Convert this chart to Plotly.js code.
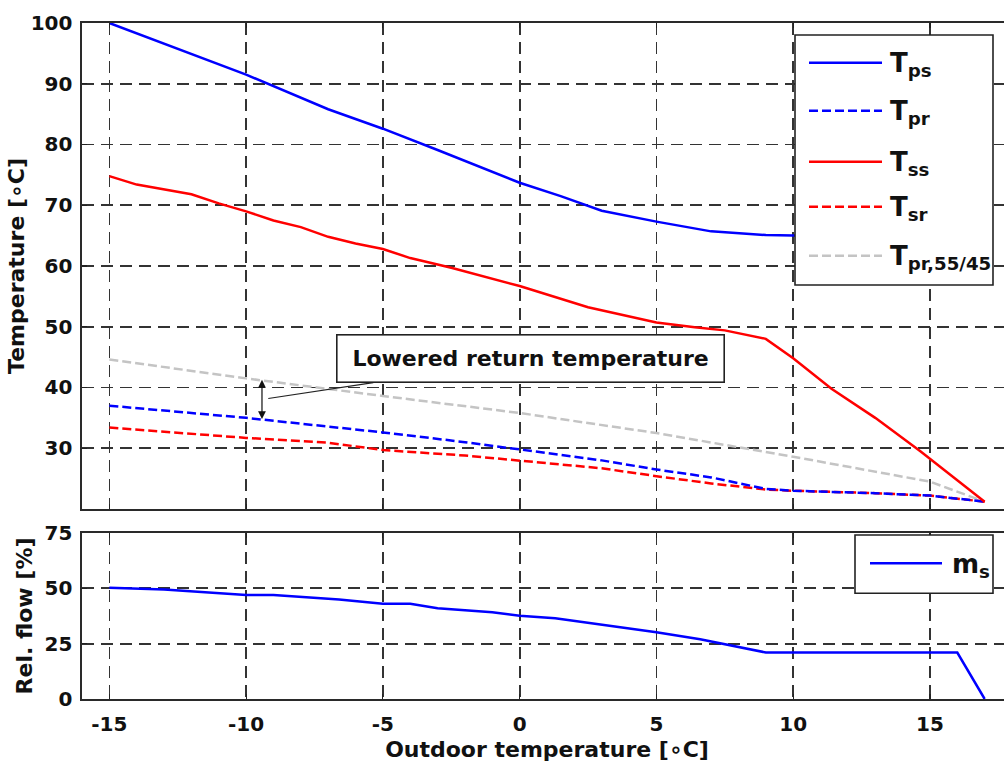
<!DOCTYPE html>
<html>
<head>
<meta charset="utf-8">
<script src="https://cdn.plot.ly/plotly-3.0.1.min.js"></script>
<style>
html,body{margin:0;padding:0;overflow:hidden;background:#fff;}
#chart{width:1012px;height:767px;}
</style>
</head>
<body>
<div id="chart"></div>
<script>
// ---- Data ----
const xTps = [-15, -13, -10, -7, -5, -3, 0, 1.5, 3, 5, 7, 9, 10, 17];
const yTps = [100, 96.6, 91.5, 85.8, 82.6, 79.1, 73.7, 71.5, 69.1, 67.3, 65.7, 65.1, 65.0, 65.0];

const xTpr = [-15, -12, -10, -7.5, -5, -2, 0, 3, 5, 7, 9, 10, 13, 15, 17];
const yTpr = [37.0, 35.8, 35.0, 33.8, 32.6, 31.0, 29.8, 28.0, 26.5, 25.2, 23.3, 23.0, 22.6, 22.2, 21.2];

const xTss = [-15, -14, -12, -11, -10, -9, -8, -7, -6, -5, -4, -2.5, 0, 2.5, 5, 6.4, 7.5, 9, 10, 11.4, 13, 14.65, 17];
const yTss = [74.8, 73.4, 71.8, 70.3, 69.0, 67.5, 66.4, 64.8, 63.7, 62.8, 61.3, 59.7, 56.7, 53.2, 50.7, 49.9, 49.4, 48.0, 44.8, 39.8, 35.0, 29.5, 21.2];

const xTsr = [-15, -12, -10, -7, -5, -2, 0, 3, 5, 7, 9, 10, 13, 15, 17];
const yTsr = [33.4, 32.4, 31.7, 30.9, 29.7, 28.8, 28.0, 26.7, 25.4, 24.2, 23.2, 23.0, 22.6, 22.2, 21.2];

const xTpr5545 = [-15, -10, -5, 0, 5, 10, 15, 17];
const yTpr5545 = [44.6, 41.5, 38.6, 35.8, 32.5, 28.6, 24.5, 21.2];

const xMs = [-15, -13, -10, -9, -6.6, -5, -4, -3, -1, 0, 1.3, 5, 6.6, 9, 16, 17];
const yMs = [50.2, 49.5, 47.0, 47.0, 45.0, 43.0, 43.0, 41.0, 39.2, 37.6, 36.5, 30.2, 27.0, 21.0, 21.0, 0];

const xTicks = [-15, -10, -5, 0, 5, 10, 15];
const xTickLabels = ['-15', '-10', '-5', '0', '5', '10', '15'];
const yTicksTop = [30, 40, 50, 60, 70, 80, 90, 100];
const yTicksBottom = [0, 25, 50, 75];

const names = ['T<sub>ps</sub>', 'T<sub>pr</sub>', 'T<sub>ss</sub>', 'T<sub>sr</sub>', 'T<sub>pr,55/45</sub>'];
const msName = 'm<sub>s</sub>';

// ---- Styles ----
const BLUE = '#0000ff', RED = '#ff0000', GRAY = '#c4c4c4';
const DASH = '9px,4px';
const LW = 2.5;
const topSeries = [
  {name: names[0], x: xTps, y: yTps, color: BLUE, dash: 'solid'},
  {name: names[1], x: xTpr, y: yTpr, color: BLUE, dash: DASH},
  {name: names[2], x: xTss, y: yTss, color: RED, dash: 'solid'},
  {name: names[3], x: xTsr, y: yTsr, color: RED, dash: DASH},
  {name: names[4], x: xTpr5545, y: yTpr5545, color: GRAY, dash: DASH}
];
// draw order: grey behind the others
const drawOrder = [4, 3, 1, 2, 0];

const traces = [];
drawOrder.forEach(i => {
  const s = topSeries[i];
  traces.push({
    type: 'scatter', mode: 'lines', name: s.name, x: s.x, y: s.y,
    xaxis: 'x', yaxis: 'y', showlegend: false,
    line: {color: s.color, width: LW, dash: s.dash, shape: 'linear'}
  });
});
traces.push({
  type: 'scatter', mode: 'lines', name: msName, x: xMs, y: yMs,
  xaxis: 'x2', yaxis: 'y2', showlegend: false,
  line: {color: BLUE, width: LW}
});

const FONT = 'DejaVu Sans, Verdana, sans-serif';
const TXT = '#111111';
const tickFont = {family: FONT, size: 20, color: TXT, weight: 'bold'};
const titleFont = {family: FONT, size: 22, color: TXT, weight: 'bold'};

const axisCommon = {
  showline: true, mirror: 'ticks', linecolor: '#2a2a2a', linewidth: 1.6,
  ticks: 'inside', ticklen: 5, tickwidth: 1.2, tickcolor: '#222',
  showgrid: true, gridcolor: '#333333', gridwidth: 1.7, griddash: '12px,7px',
  zeroline: false, tickfont: tickFont
};

// ---- Legend (drawn as boxes) ----
const shapes = [];
const annotations = [];
const px = v => (v - 82) / 930;      // pixel -> paper x
const py = v => (699 - v) / 676;     // pixel -> paper y

shapes.push({type: 'rect', xref: 'paper', yref: 'paper',
  x0: px(795), x1: px(993), y0: py(285), y1: py(35),
  line: {color: '#222', width: 1.6}, fillcolor: '#ffffff', layer: 'above'});
const legY = [62.7, 110.7, 161.7, 206.7, 255.7];
topSeries.forEach((s, i) => {
  shapes.push({type: 'line', xref: 'paper', yref: 'paper',
    x0: px(809), x1: px(882), y0: py(legY[i]), y1: py(legY[i]),
    line: {color: s.color, width: LW, dash: s.dash}, layer: 'above'});
  annotations.push({xref: 'paper', yref: 'paper', x: px(888), y: py(legY[i] + 2),
    xanchor: 'left', yanchor: 'middle', showarrow: false, text: s.name,
    font: {family: FONT, size: 26, color: TXT, weight: 'bold'}});
});

shapes.push({type: 'rect', xref: 'paper', yref: 'paper',
  x0: px(855), x1: px(993), y0: py(593.3), y1: py(535),
  line: {color: '#222', width: 1.6}, fillcolor: '#ffffff', layer: 'above'});
shapes.push({type: 'line', xref: 'paper', yref: 'paper',
  x0: px(870), x1: px(942), y0: py(563.3), y1: py(563.3),
  line: {color: BLUE, width: LW}, layer: 'above'});
annotations.push({xref: 'paper', yref: 'paper', x: px(950), y: py(565),
  xanchor: 'left', yanchor: 'middle', showarrow: false, text: msName,
  font: {family: FONT, size: 26, color: TXT, weight: 'bold'}});

// ---- Callout ----
annotations.push({
  xref: 'x', yref: 'y', x: -9.19, y: 38.2, axref: 'x', ayref: 'y', ax: 0.41, ay: 44.7,
  text: 'Lowered return temperature', showarrow: true, arrowhead: 0, arrowwidth: 1.1,
  arrowcolor: '#222', bgcolor: '#ffffff', bordercolor: '#222', borderwidth: 1.6,
  borderpad: 3, width: 380, height: 40,
  font: {family: FONT, size: 22, color: TXT, weight: 'bold'}
});
annotations.push({
  xref: 'x', yref: 'y', x: -9.42, y: 34.8, axref: 'x', ayref: 'y', ax: -9.42, ay: 41.5,
  text: '', showarrow: true, arrowhead: 2, arrowside: 'end+start', arrowsize: 1.3,
  arrowwidth: 1.2, arrowcolor: '#111', standoff: 0, startstandoff: 0
});

const layout = {
  width: 1012, height: 767,
  margin: {l: 82, r: 0, t: 23, b: 68, pad: 0},
  paper_bgcolor: '#ffffff', plot_bgcolor: '#ffffff',
  showlegend: false,
  xaxis: Object.assign({}, axisCommon, {
    domain: [0, 1], anchor: 'y', range: [-16, 18],
    tickmode: 'array', tickvals: xTicks, ticktext: xTickLabels, showticklabels: false
  }),
  yaxis: Object.assign({}, axisCommon, {
    domain: [0.2811, 1], anchor: 'x', range: [20, 100],
    tickmode: 'array', tickvals: yTicksTop, ticklabelstandoff: 4,
    title: {text: 'Temperature [∘C]', font: titleFont, standoff: 0}
  }),
  xaxis2: Object.assign({}, axisCommon, {
    domain: [0, 1], anchor: 'y2', range: [-16, 18],
    tickmode: 'array', tickvals: xTicks, ticktext: xTickLabels, ticklabelstandoff: 6,
    title: {text: 'Outdoor temperature [∘C]', font: titleFont, standoff: 7}
  }),
  yaxis2: Object.assign({}, axisCommon, {
    domain: [0, 0.2456], anchor: 'x2', range: [0, 75],
    tickmode: 'array', tickvals: yTicksBottom, ticklabelstandoff: 4,
    title: {text: 'Rel. flow [%]', font: titleFont, standoff: 6}
  }),
  shapes: shapes,
  annotations: annotations
};

Plotly.newPlot('chart', traces, layout, {displayModeBar: false, staticPlot: true});
</script>
</body>
</html>
